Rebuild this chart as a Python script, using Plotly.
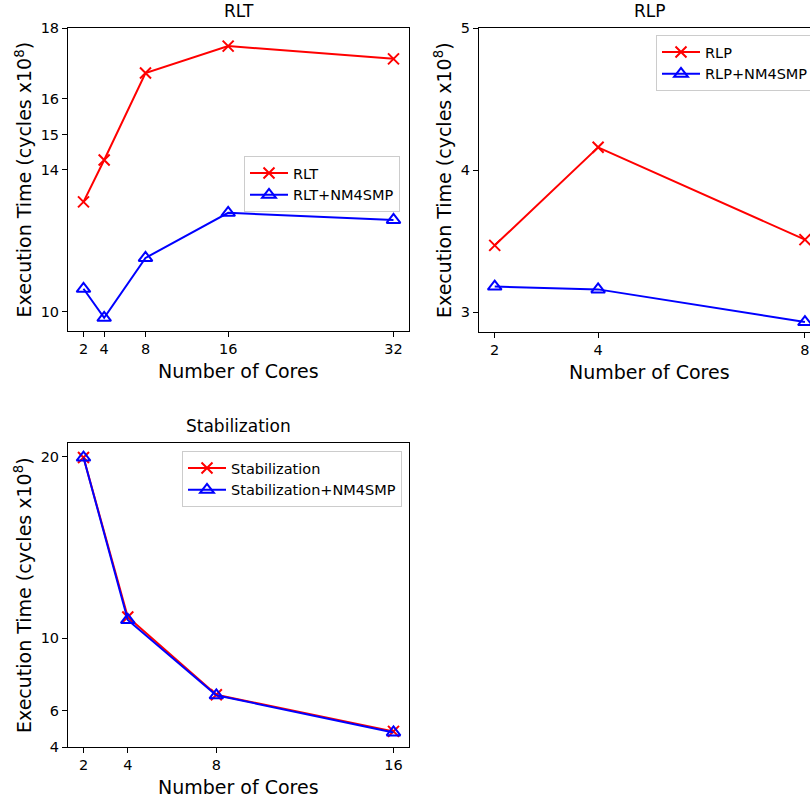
import plotly.graph_objects as go

# ---------------- data ----------------
rlt_cores = [2, 4, 8, 16, 32]
rlt_base = [13.1, 14.28, 16.73, 17.49, 17.13]
rlt_nm = [10.65, 9.83, 11.52, 12.79, 12.59]
rlt_yticks = [10, 14, 15, 16, 18]

rlp_cores = [2, 4, 8]
rlp_base = [3.47, 4.16, 3.51]
rlp_nm = [3.18, 3.16, 2.93]
rlp_yticks = [3, 4, 5]

stab_cores = [2, 4, 8, 16]
stab_base = [19.95, 11.16, 6.88, 4.86]
stab_nm = [19.95, 11.0, 6.85, 4.8]
stab_yticks = [4, 6, 10, 20]

titles = ["RLT", "RLP", "Stabilization"]
xlabel = "Number of Cores"
ylabel = "Execution Time (cycles x10<sup>8</sup>)"

W, H = 810, 801
FONT = "DejaVu Sans"
RED = "#ff0000"
BLUE = "#0000ff"


def px(x):
    return x / W


def py(y):
    return 1 - y / H


fig = go.Figure()

panels = [
    ("x", "y", "legend", titles[0], rlt_cores, rlt_base, rlt_nm),
    ("x2", "y2", "legend2", titles[1], rlp_cores, rlp_base, rlp_nm),
    ("x3", "y3", "legend3", titles[2], stab_cores, stab_base, stab_nm),
]
for xa, ya, lg, name, xs, b, n in panels:
    fig.add_trace(go.Scatter(
        x=xs, y=b, name=name, xaxis=xa, yaxis=ya, legend=lg, mode="lines+markers",
        line=dict(color=RED, width=2), cliponaxis=False,
        marker=dict(symbol="x-thin-open", size=11, color=RED, line=dict(color=RED, width=2)),
    ))
    fig.add_trace(go.Scatter(
        x=xs, y=n, name=name + "+NM4SMP", xaxis=xa, yaxis=ya, legend=lg, mode="lines+markers",
        line=dict(color=BLUE, width=2), cliponaxis=False,
        marker=dict(symbol="triangle-up-open", size=12, color=BLUE, line=dict(color=BLUE, width=2)),
    ))

axis_common = dict(
    showline=True, linecolor="black", linewidth=1, ticks="outside", ticklen=5,
    tickwidth=1, tickcolor="black", showgrid=False, zeroline=False, automargin=False,
    tickfont=dict(family=FONT, size=14.5, color="black"),
)

geo = {
    "1": dict(x0=68, x1=409, y0=28, y1=331),
    "2": dict(x0=479, x1=810, y0=28, y1=332),
    "3": dict(x0=68, x1=409, y0=443, y1=747),
}

fig.update_layout(
    xaxis=dict(domain=[px(68), px(409)], anchor="y", range=[0.5, 33.5],
               tickvals=rlt_cores, mirror=True, **axis_common),
    yaxis=dict(domain=[py(331), py(28)], anchor="x", range=[9.46, 18],
               tickvals=rlt_yticks, mirror=True, **axis_common),
    xaxis2=dict(domain=[px(479), 1.0], anchor="y2", range=[1.696, 8.098],
                tickvals=rlp_cores, mirror=True, **axis_common),
    yaxis2=dict(domain=[py(332), py(28)], anchor="x2", range=[2.86, 5],
                tickvals=rlp_yticks, mirror=False, **axis_common),
    xaxis3=dict(domain=[px(68), px(409)], anchor="y3", range=[1.3, 16.7],
                tickvals=stab_cores, mirror=True, **axis_common),
    yaxis3=dict(domain=[py(747), py(443)], anchor="x3", range=[4, 20.75],
                tickvals=stab_yticks, mirror=True, **axis_common),
)

legend_common = dict(
    xanchor="left", yanchor="top", bgcolor="rgba(255,255,255,0.8)",
    bordercolor="#cccccc", borderwidth=1,
    font=dict(family=FONT, size=14.5, color="black"), itemwidth=38,
    tracegroupgap=0,
)
fig.update_layout(
    legend=dict(x=px(244), y=py(156), **legend_common),
    legend2=dict(x=px(656), y=py(35), **legend_common),
    legend3=dict(x=px(182), y=py(451), **legend_common),
)

annotations = []
for key, t in zip(["1", "2", "3"], titles):
    g = geo[key]
    cx = (g["x0"] + (820 if key == "2" else g["x1"])) / 2
    annotations.append(dict(
        text=t, x=px(cx), y=py(g["y0"] - 5), xref="paper", yref="paper",
        xanchor="center", yanchor="bottom", showarrow=False,
        font=dict(family=FONT, size=17, color="black")))
for key, cxp in [("1", 238), ("2", 649), ("3", 238)]:
    g = geo[key]
    annotations.append(dict(
        text=xlabel, x=px(cxp), y=py(g["y1"] + 27), xref="paper", yref="paper",
        xanchor="center", yanchor="top", showarrow=False,
        font=dict(family=FONT, size=19, color="black")))
for key, xp in [("1", 23), ("2", 443), ("3", 23)]:
    g = geo[key]
    annotations.append(dict(
        text=ylabel, x=px(xp), y=py((g["y0"] + g["y1"]) / 2), xref="paper", yref="paper",
        xanchor="center", yanchor="middle", textangle=-90, showarrow=False,
        font=dict(family=FONT, size=19, color="black")))

fig.update_layout(
    annotations=annotations,
    width=W, height=H, margin=dict(l=0, r=0, t=0, b=0, autoexpand=False),
    paper_bgcolor="white", plot_bgcolor="white", showlegend=True,
)

fig.write_html(
    "out.html",
    config={"displayModeBar": False},
    post_script="document.body.style.margin='0';document.body.style.overflow='hidden';",
)
